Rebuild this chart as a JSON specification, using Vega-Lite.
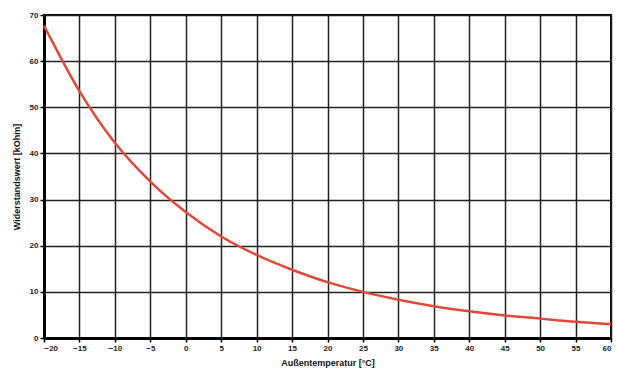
{
  "$schema": "https://vega.github.io/schema/vega-lite/v6.json",
  "autosize": "none",
  "width": 567,
  "height": 323,
  "padding": {"left": 44, "top": 15, "right": 6, "bottom": 32},
  "background": "white",
  "config": {
    "view": {"stroke": "#000", "strokeWidth": 2},
    "axis": {
      "labelFont": "Liberation Sans",
      "labelFontWeight": "bold",
      "labelFontSize": 8,
      "labelColor": "#222",
      "titleFont": "Liberation Sans",
      "titleFontWeight": "bold",
      "titleFontSize": 9,
      "titleColor": "#111",
      "gridColor": "#222",
      "gridWidth": 1.5,
      "gridOpacity": 1,
      "domainColor": "#000",
      "domainWidth": 3,
      "tickColor": "#000",
      "tickSize": 4,
      "tickWidth": 1.5
    }
  },
  "data": {
    "values": [
      {"t": -20, "r": 67.7},
      {"t": -15, "r": 53.5},
      {"t": -10, "r": 42.3},
      {"t": -5, "r": 33.9},
      {"t": 0, "r": 27.3},
      {"t": 5, "r": 22.0},
      {"t": 10, "r": 18.0},
      {"t": 15, "r": 14.8},
      {"t": 20, "r": 12.1},
      {"t": 25, "r": 10.0},
      {"t": 30, "r": 8.3},
      {"t": 35, "r": 6.9},
      {"t": 40, "r": 5.8},
      {"t": 45, "r": 4.9},
      {"t": 50, "r": 4.2},
      {"t": 55, "r": 3.5},
      {"t": 60, "r": 3.0}
    ]
  },
  "mark": {"type": "line", "interpolate": "monotone", "color": "#e0483c", "strokeWidth": 2.5},
  "encoding": {
    "x": {
      "field": "t",
      "type": "quantitative",
      "scale": {"domain": [-20, 60], "nice": false, "zero": false},
      "axis": {"values": [-20,-15,-10,-5,0,5,10,15,20,25,30,35,40,45,50,55,60], "title": "Außentemperatur [°C]", "titlePadding": 6, "labelPadding": 2}
    },
    "y": {
      "field": "r",
      "type": "quantitative",
      "scale": {"domain": [0, 70], "nice": false},
      "axis": {"values": [0,10,20,30,40,50,60,70], "title": "Widerstandswert [kOhm]", "titlePadding": 8, "labelPadding": 2}
    }
  }
}
